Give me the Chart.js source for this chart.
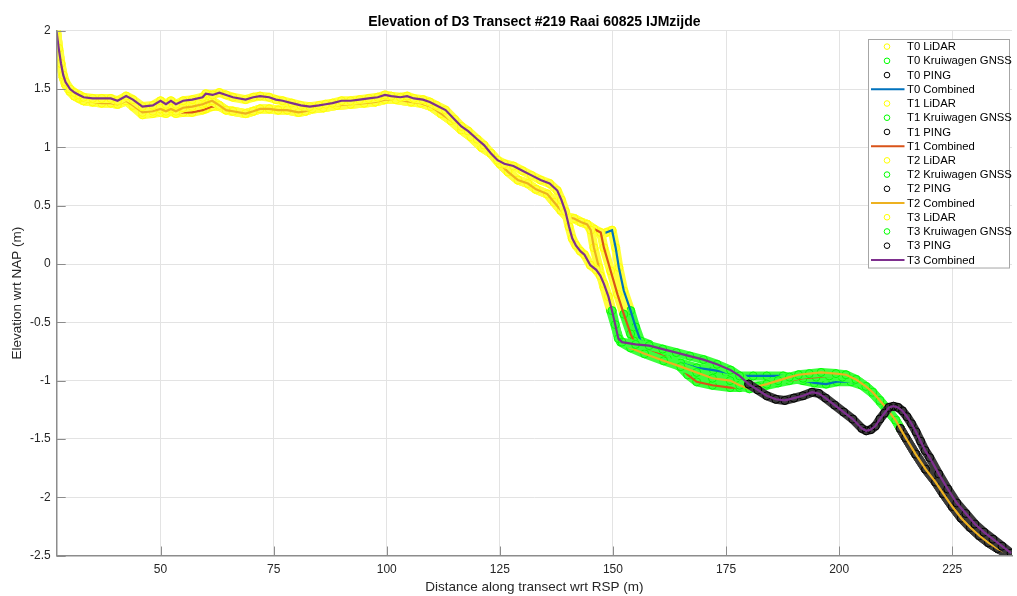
<!DOCTYPE html>
<html lang="en">
<head>
    <meta charset="UTF-8">
    <title>Elevation of D3 Transect #219 Raai 60825 IJMzijde</title>
    <script src="https://cdn.jsdelivr.net/npm/chart.js"></script>
    <style>
        html, body { margin: 0; padding: 0; background: #fff; }
        #chart { display: block; }
    </style>
</head>
<body>
<canvas id="chart" width="1017" height="596"></canvas>
<script>
// surveyed profiles, distance (m) and elevation wrt NAP (m) per transect
const t0Dist = [27, 27.5, 28, 28.5, 29, 30, 31, 32, 33, 35, 37, 39, 40.5, 42.4, 43.9, 46, 48.3, 50, 51.2, 52.3,
    53.4, 55, 57, 59.3, 60, 61.4, 63, 64.5, 66, 68.8, 70.5, 72, 74, 76, 78, 80.5, 82, 83.5, 86, 89,
    92, 95, 97.5, 99.6, 102, 105.4, 107.5, 109.8, 112, 114.2, 116.5, 118.6, 121, 123, 125, 126.8, 129, 131.2, 133, 135.5,
    137, 138.5, 140, 141.4, 142.9, 144.3,
    145.8, 147.3, 148.5, 149.8, 150.6, 151.3, 152.4, 153.9, 155, 156.1, 158, 161.2, 165, 168.5, 172.2, 175, 178, 181, 184, 187.6,
    190, 192, 194.5, 197.1, 199.5, 202.6, 205, 207.4, 209, 210.3, 212.5, 213.5, 214.7, 216.9, 219.1, 221.3, 223, 225, 227, 229,
    231, 233, 235, 238];
const t0Elev = [2.00, 1.83, 1.70, 1.60, 1.54, 1.48, 1.44, 1.42, 1.40, 1.39, 1.38, 1.38, 1.37, 1.40, 1.36, 1.30, 1.31, 1.33, 1.31, 1.33,
    1.31, 1.34, 1.35, 1.37, 1.38, 1.40, 1.36, 1.32, 1.31, 1.29, 1.31, 1.33, 1.33, 1.32, 1.32, 1.30, 1.31, 1.33, 1.34, 1.36,
    1.37, 1.38, 1.39, 1.41, 1.41, 1.39, 1.38, 1.35, 1.29, 1.23, 1.15, 1.09, 1.00, 0.95, 0.86, 0.79, 0.72, 0.69, 0.64, 0.60,
    0.53, 0.46, 0.40, 0.39, 0.36, 0.34,
    0.30, 0.25, 0.27, 0.29, 0.14, -0.03, -0.23, -0.40, -0.54, -0.66, -0.69, -0.79, -0.85, -0.89, -0.91, -0.93, -0.96, -0.96, -0.96, -0.96,
    -0.98, -1.00, -1.02, -1.03, -1.01, -1.01, -1.04, -1.11, -1.18, -1.24, -1.34, -1.41, -1.49, -1.63, -1.76, -1.87, -1.97, -2.08, -2.18, -2.26,
    -2.33, -2.39, -2.44, -2.50];
const t0LidarEnd = 153.9, t0GnssEnd = 213.5;

const t1Dist = [27, 27.5, 28, 28.5, 29, 30, 31, 32, 33, 35, 37, 39, 40.5, 42.4, 43.9, 46, 48.3, 50, 51.2, 52.3,
    53.4, 55, 57, 59.3, 60, 61.4, 63, 64.5, 66, 68.8, 70.5, 72, 74, 76, 78, 80.5, 82, 83.5, 86, 89,
    92, 95, 97.5, 99.6, 102, 105.4, 107.5, 109.8, 112, 114.2, 116.5, 118.6, 121, 123, 125, 126.8, 129, 131.2, 133, 135.5,
    137, 138.5, 140, 141.4, 142.9, 144.3,
    145.8, 147.3, 148, 149.5, 151, 152.4, 153.9, 154.6, 156.8, 159.7, 162, 164.8, 166.5, 168.5, 172, 175.9, 178, 180.2, 184, 186.5,
    189, 192, 194.9, 197.8, 200.7, 203.7, 205.9, 207.4, 209, 210.3, 212.5, 213.5, 214.7, 216.9, 219.1, 221.3, 223, 225, 227, 229,
    231, 233, 235, 238];
const t1Elev = [2.00, 1.83, 1.70, 1.60, 1.54, 1.48, 1.44, 1.42, 1.40, 1.39, 1.38, 1.38, 1.37, 1.40, 1.35, 1.28, 1.29, 1.30, 1.29, 1.31,
    1.29, 1.30, 1.30, 1.32, 1.33, 1.35, 1.35, 1.32, 1.31, 1.29, 1.31, 1.33, 1.33, 1.32, 1.32, 1.30, 1.31, 1.33, 1.34, 1.36,
    1.37, 1.38, 1.39, 1.41, 1.41, 1.39, 1.38, 1.35, 1.29, 1.23, 1.15, 1.09, 1.00, 0.95, 0.86, 0.79, 0.72, 0.69, 0.64, 0.60,
    0.53, 0.46, 0.40, 0.39, 0.36, 0.34,
    0.30, 0.27, 0.14, -0.06, -0.26, -0.43, -0.60, -0.66, -0.71, -0.76, -0.81, -0.88, -0.95, -1.01, -1.04, -1.06, -1.06, -1.05, -1.04, -1.02,
    -1.00, -0.98, -0.97, -0.96, -0.97, -0.99, -1.05, -1.10, -1.17, -1.23, -1.34, -1.41, -1.49, -1.63, -1.76, -1.87, -1.97, -2.08, -2.18, -2.26,
    -2.33, -2.39, -2.44, -2.50];
const t1LidarEnd = 152.4, t1GnssEnd = 213.5;

const t2Dist = [27, 27.5, 28, 28.5, 29, 30, 31, 32, 33, 35, 37, 39, 40.5, 42.4, 43.9, 46, 48.3, 50, 51.2, 52.3,
    53.4, 55, 57, 59.3, 60, 61.4, 63, 64.5, 66, 68.8, 70.5, 72, 74, 76, 78, 80.5, 82, 83.5, 86, 89,
    92, 95, 97.5, 99.6, 102, 105.4, 107.5, 109.8, 112, 114.2, 116.5, 118.6, 121, 123, 125, 126.8, 129, 131.2, 133, 135.5,
    137, 138.5, 140, 141.4, 142.9, 144.3,
    145.1, 145.8, 146.9, 148, 149.5, 151, 151.7, 153.9, 157, 161.2, 165, 168.5, 172, 175.9, 178, 180.2, 182, 184, 186.5, 189,
    191, 193.4, 196, 199.3, 201.5, 203.7, 205.9, 207.4, 209, 210.3, 212.5, 213.5, 214.7, 216.9, 219.1, 221.3, 223, 225, 227, 229,
    231, 233, 235, 238];
const t2Elev = [2.00, 1.83, 1.70, 1.60, 1.54, 1.48, 1.44, 1.42, 1.40, 1.39, 1.38, 1.38, 1.37, 1.40, 1.36, 1.30, 1.31, 1.33, 1.31, 1.33,
    1.31, 1.34, 1.35, 1.37, 1.38, 1.40, 1.36, 1.32, 1.31, 1.29, 1.31, 1.33, 1.33, 1.32, 1.32, 1.30, 1.31, 1.33, 1.34, 1.36,
    1.37, 1.38, 1.39, 1.41, 1.41, 1.39, 1.38, 1.35, 1.29, 1.23, 1.15, 1.09, 1.00, 0.95, 0.86, 0.79, 0.72, 0.69, 0.64, 0.60,
    0.53, 0.46, 0.40, 0.39, 0.36, 0.34,
    0.29, 0.14, -0.03, -0.20, -0.40, -0.60, -0.67, -0.72, -0.77, -0.83, -0.88, -0.93, -0.98, -1.00, -1.04, -1.07, -1.05, -1.03, -1.00, -0.97,
    -0.95, -0.94, -0.93, -0.94, -0.95, -0.99, -1.05, -1.10, -1.17, -1.23, -1.34, -1.41, -1.49, -1.63, -1.76, -1.87, -1.97, -2.08, -2.18, -2.26,
    -2.33, -2.39, -2.44, -2.50];
const t2LidarEnd = 149.5, t2GnssEnd = 213.5;

const t3Dist = [27, 27.5, 28, 28.5, 29, 30, 31, 32, 33, 35, 37, 39, 40.5, 42.4, 43.9, 46, 48.3, 50, 51.2, 52.3,
    53.4, 55, 57, 59.3, 60, 61.5, 63, 64.5, 66, 68.8, 70.5, 72, 74, 75.5, 77, 79, 81, 83, 85, 86.5,
    88, 90, 92, 94, 96, 98, 99.6, 101, 103, 104.5, 106, 108, 109.5, 111, 113, 115, 116.5, 118, 120, 121.5,
    123, 124.5, 126, 128, 130, 132, 134, 136, 137.7, 138.6, 139.5, 140.3, 141, 141.8, 142.8, 143.7, 145, 146.3, 147.2, 148,
    149, 149.8, 150.5, 151.2, 152, 155, 158, 161, 164, 167, 170, 173, 176, 178, 180, 182, 184, 186, 188, 190,
    192, 194, 195.5, 197, 199, 201, 203, 205, 206, 207, 208, 209, 210, 211, 212, 213, 214, 215, 216, 217,
    218, 219, 220, 222, 224, 226, 228, 230, 232, 234, 236, 238];
const t3Elev = [2.00, 1.85, 1.72, 1.62, 1.56, 1.50, 1.47, 1.45, 1.43, 1.42, 1.42, 1.42, 1.40, 1.44, 1.41, 1.35, 1.36, 1.40, 1.37, 1.40,
    1.37, 1.40, 1.41, 1.43, 1.46, 1.45, 1.47, 1.45, 1.43, 1.41, 1.43, 1.44, 1.43, 1.41, 1.40, 1.38, 1.36, 1.35, 1.36, 1.37,
    1.38, 1.40, 1.40, 1.41, 1.42, 1.43, 1.45, 1.44, 1.43, 1.44, 1.42, 1.41, 1.39, 1.36, 1.32, 1.24, 1.18, 1.14, 1.07, 1.02,
    0.95, 0.89, 0.86, 0.84, 0.80, 0.76, 0.72, 0.69, 0.63, 0.55, 0.45, 0.32, 0.22, 0.16, 0.11, 0.08, -0.01, -0.05, -0.10, -0.17,
    -0.28, -0.40, -0.52, -0.64, -0.67, -0.69, -0.70, -0.73, -0.76, -0.79, -0.82, -0.86, -0.91, -0.96, -1.03, -1.08, -1.13, -1.16, -1.17, -1.15,
    -1.13, -1.10, -1.11, -1.15, -1.21, -1.27, -1.33, -1.41, -1.43, -1.42, -1.39, -1.33, -1.28, -1.23, -1.22, -1.23, -1.26, -1.31, -1.37, -1.44,
    -1.52, -1.60, -1.66, -1.80, -1.93, -2.05, -2.14, -2.23, -2.30, -2.36, -2.42, -2.48];
const t3LidarEnd = 149.8, t3GnssEnd = 180;

const xTicks = [50, 75, 100, 125, 150, 175, 200, 225];
const yTicks = [-2.5, -2, -1.5, -1, -0.5, 0, 0.5, 1, 1.5, 2];

const FONT = '"Liberation Sans", Arial, Helvetica, sans-serif';
const axisColor = '#8c8c8c';
const gridColor = '#e3e3e3';
const textColor = '#262626';

const transects = [
    { name: 'T0', dist: t0Dist, elev: t0Elev, lidarEnd: t0LidarEnd, gnssEnd: t0GnssEnd, color: '#0072BD' },
    { name: 'T1', dist: t1Dist, elev: t1Elev, lidarEnd: t1LidarEnd, gnssEnd: t1GnssEnd, color: '#D95319' },
    { name: 'T2', dist: t2Dist, elev: t2Elev, lidarEnd: t2LidarEnd, gnssEnd: t2GnssEnd, color: '#EDB120' },
    { name: 'T3', dist: t3Dist, elev: t3Elev, lidarEnd: t3LidarEnd, gnssEnd: t3GnssEnd, color: '#7E2F8E' }
];

// marker ring colour and the band the dense circles form
const sources = [
    { label: 'LiDAR', ring: '#ffff00', band: '#ffff3d' },
    { label: 'Kruiwagen GNSS', ring: '#00ff00', band: '#3dff3d' },
    { label: 'PING', ring: '#000000', band: '#3a3a3a' }
];

function part(t, from, to) {
    const pts = [];
    t.dist.forEach((d, i) => {
        if (d >= from && d <= to) pts.push({ x: d, y: t.elev[i] });
    });
    return pts;
}

const datasets = [];
transects.forEach(t => {
    const ranges = [[-Infinity, t.lidarEnd], [t.lidarEnd, t.gnssEnd], [t.gnssEnd, Infinity]];
    sources.forEach((s, k) => {
        datasets.push({
            label: t.name + ' ' + s.label,
            data: part(t, ranges[k][0], ranges[k][1]),
            showLine: true,
            borderColor: s.band,
            borderWidth: 9,
            borderJoinStyle: 'round',
            borderCapStyle: 'round',
            pointStyle: 'circle',
            pointRadius: 4,
            pointBorderWidth: 1,
            pointBorderColor: s.ring,
            pointBackgroundColor: 'rgba(0,0,0,0)'
        });
    });
    datasets.push({
        label: t.name + ' Combined',
        data: part(t, -Infinity, Infinity),
        showLine: true,
        borderColor: t.color,
        borderWidth: 2.2,
        pointRadius: 0
    });
});
// later series on top, like the original plot order
datasets.forEach((d, i) => { d.order = -i; d.clip = 0; });

const innerTicks = {
    id: 'innerTicks',
    afterDatasetsDraw(chart) {
        const { ctx, chartArea: a, scales: { x, y } } = chart;
        ctx.save();
        ctx.strokeStyle = axisColor;
        ctx.lineWidth = 1;
        ctx.beginPath();
        x.ticks.forEach(t => {
            const px = Math.round(x.getPixelForValue(t.value)) + 0.5;
            ctx.moveTo(px, a.bottom);
            ctx.lineTo(px, a.bottom - 9);
        });
        y.ticks.forEach(t => {
            const py = Math.round(y.getPixelForValue(t.value)) + 0.5;
            ctx.moveTo(a.left, py);
            ctx.lineTo(a.left + 9, py);
        });
        ctx.stroke();
        ctx.restore();
    }
};

const insideLegend = {
    id: 'insideLegend',
    afterDraw(chart) {
        const { ctx, chartArea: a } = chart;
        const sets = chart.data.datasets;
        const row = 14.22;
        const w = 141;
        const h = sets.length * row + 1;
        const left = Math.round(a.right - 3 - w) + 0.5;
        const top = Math.round(a.top + 8) + 0.5;
        ctx.save();
        ctx.fillStyle = '#ffffff';
        ctx.fillRect(left, top, w, h);
        ctx.strokeStyle = '#a6a6a6';
        ctx.lineWidth = 1;
        ctx.strokeRect(left, top, w, h);
        ctx.font = '11.3px ' + FONT;
        ctx.textBaseline = 'middle';
        ctx.textAlign = 'left';
        sets.forEach((d, i) => {
            const cy = top + (i + 0.5) * row;
            if (d.pointRadius) {
                ctx.beginPath();
                ctx.arc(left + 18.5, cy, 2.8, 0, Math.PI * 2);
                ctx.strokeStyle = d.pointBorderColor;
                ctx.lineWidth = 1;
                ctx.stroke();
            } else {
                ctx.beginPath();
                ctx.moveTo(left + 2.5, cy);
                ctx.lineTo(left + 36, cy);
                ctx.strokeStyle = d.borderColor;
                ctx.lineWidth = 2;
                ctx.stroke();
            }
            ctx.fillStyle = '#000000';
            ctx.fillText(d.label, left + 38.5, cy + 0.5);
        });
        ctx.restore();
    }
};

new Chart(document.getElementById('chart'), {
    type: 'scatter',
    data: { datasets: datasets },
    plugins: [innerTicks, insideLegend],
    options: {
        responsive: false,
        animation: false,
        events: [],
        layout: { padding: 0 },
        elements: { line: { tension: 0 } },
        plugins: {
            legend: { display: false },
            tooltip: { enabled: false },
            title: {
                display: true,
                fullSize: false,
                text: 'Elevation of D3 Transect #219 Raai 60825 IJMzijde',
                color: '#000000',
                font: { family: FONT, size: 14, weight: 'bold' },
                padding: { top: 13.5, bottom: 0.5 }
            }
        },
        scales: {
            x: {
                type: 'linear',
                min: 27.05,
                max: 238.2,
                afterBuildTicks: axis => { axis.ticks = xTicks.map(v => ({ value: v })); },
                afterFit: axis => { axis.height = 40.5; },
                grid: { color: gridColor, lineWidth: 1, drawTicks: false },
                border: { display: true, color: axisColor, width: 1.5, z: 1 },
                ticks: {
                    padding: 7, maxRotation: 0, autoSkip: false, color: textColor,
                    font: { family: FONT, size: 12 },
                    callback: v => String(v)
                },
                title: {
                    display: true,
                    text: 'Distance along transect wrt RSP (m)',
                    color: textColor,
                    font: { family: FONT, size: 13.5 },
                    padding: { top: 0, bottom: 0.5 }
                }
            },
            y: {
                type: 'linear',
                min: -2.5,
                max: 2,
                afterBuildTicks: axis => { axis.ticks = yTicks.map(v => ({ value: v })); },
                afterFit: axis => { axis.width = 56.7; },
                grid: { color: gridColor, lineWidth: 1, drawTicks: false },
                border: { display: true, color: axisColor, width: 1.5, z: 1 },
                ticks: {
                    padding: 6, autoSkip: false, color: textColor,
                    font: { family: FONT, size: 12 },
                    callback: v => String(v)
                },
                title: {
                    display: true,
                    text: 'Elevation wrt NAP (m)',
                    color: textColor,
                    font: { family: FONT, size: 13.5 },
                    padding: { top: 9.5, bottom: 0 }
                }
            }
        }
    }
});
</script>
</body>
</html>
